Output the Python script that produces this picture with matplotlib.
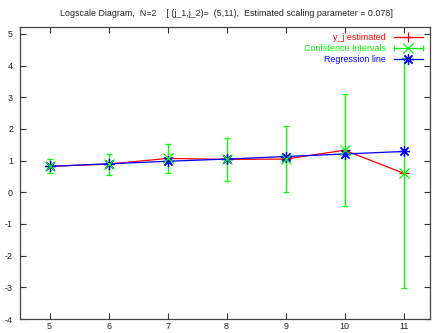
import numpy as np
import matplotlib.pyplot as plt
from matplotlib.lines import Line2D
from matplotlib.legend_handler import HandlerBase

plt.rcParams['font.family'] = ['Liberation Sans', 'DejaVu Sans']
plt.rcParams['axes.unicode_minus'] = False

# octaves j and the estimated log-scale values
octaves = [5, 6, 7, 8, 9, 10, 11]
y_est = [0.82, 0.89, 1.07, 1.04, 1.05, 1.33, 0.60]
ci_low = [0.60, 0.55, 0.61, 0.36, 0.02, -0.44, -3.03]
ci_high = [1.04, 1.22, 1.52, 1.70, 2.09, 3.10, 4.23]
y_reg = [0.82, 0.90, 0.98, 1.05, 1.13, 1.21, 1.29]

title = ('Logscale Diagram,  N=2    [ (j_1,j_2)=  (5,11),  '
         'Estimated scaling parameter = 0.078]')
y_ticks = [5, 4, 3, 2, 1, 0, -1, -2, -3, -4]

RED, GREEN, BLUE = '#ff0000', '#00ff00', '#0000ff'
FS = 6.4


class CIHandler(HandlerBase):
    # horizontal errorbar sample with end caps and a cross in the middle
    def create_artists(self, legend, orig_handle, xdescent, ydescent,
                       width, height, fontsize, trans):
        y = height / 2 - ydescent
        x0, x1 = -xdescent, -xdescent + width
        line = Line2D([x0, x1], [y, y], color=GREEN, lw=0.9)
        caps = Line2D([x0, x1], [y, y], ls='', marker='|', ms=4,
                      mew=0.9, color=GREEN)
        mark = Line2D([(x0 + x1) / 2], [y], ls='', marker='x', ms=7,
                      mew=0.9, color=GREEN)
        for a in (line, caps, mark):
            a.set_transform(trans)
        return [line, caps, mark]


fig = plt.figure(figsize=(4.33, 3.33), dpi=100)
ax = fig.add_axes([0.0462, 0.042, 0.9475, 0.877])

x = np.array(octaves)
y = np.array(y_est)
lo = y - np.array(ci_low)
hi = np.array(ci_high) - y

l1, = ax.plot(x, y, color=RED, lw=0.9, marker='+', ms=7, mew=0.9)
ax.errorbar(x, y, yerr=[lo, hi], fmt='x', color=GREEN, ms=7, mew=0.9,
            elinewidth=0.9, capsize=2.2, capthick=0.9)
l3, = ax.plot(x, y_reg, color=BLUE, lw=0.9, marker=(8, 2, 0), ms=8,
              mew=0.9)

ax.set_xlim(4.5, 11.45)
ax.set_ylim(-4, 5.22)
ax.set_xticks(octaves)
ax.set_yticks(y_ticks)
ax.tick_params(direction='in', length=4, width=0.8, labelsize=FS,
               top=True, right=True, colors='#333333', labelcolor='#222222')
ax.tick_params(axis='x', pad=2)
ax.tick_params(axis='y', pad=5)
for s in ax.spines.values():
    s.set_color('#444444')
    s.set_linewidth(0.9)

fig.suptitle(title, fontsize=FS, y=0.973, x=0.522, color='#222222')

ci_proxy = Line2D([], [], color=GREEN)
leg = ax.legend([l1, ci_proxy, l3],
                ['y_j estimated', 'Confidence Intervals', 'Regression line'],
                handler_map={ci_proxy: CIHandler()},
                loc='upper right', bbox_to_anchor=(0.99, 0.99),
                frameon=False, markerfirst=False, fontsize=FS,
                handlelength=3.2, handletextpad=0.9, labelspacing=0.18,
                borderaxespad=0.0)
colors = [RED, GREEN, BLUE]
for t, c in zip(leg.get_texts(), colors):
    t.set_color(c)
for vp in leg._legend_handle_box.get_children():
    vp.align = 'right'

fig.savefig('out.png', dpi=100)
